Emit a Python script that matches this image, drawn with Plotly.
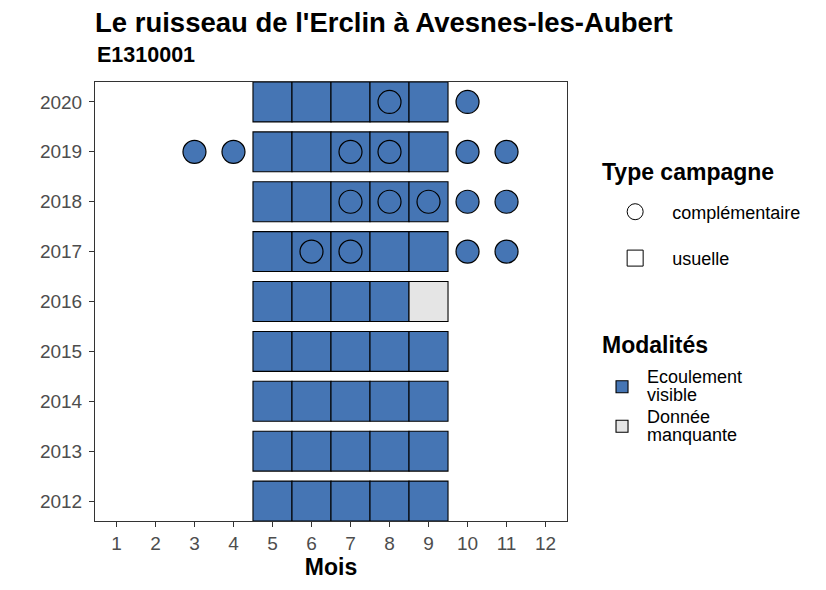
import plotly.graph_objects as go

# campagnes usuelles : mois 5 à 9, une modalité par case
annees = [2012, 2013, 2014, 2015, 2016, 2017, 2018, 2019, 2020]
mois_usuels = [5, 6, 7, 8, 9]
# seule case sans donnée : septembre 2016
manquant = {(2016, 9)}

# campagnes complémentaires (année -> mois)
compl = {
    2017: [6, 7, 10, 11],
    2018: [7, 8, 9, 10, 11],
    2019: [3, 4, 7, 8, 10, 11],
    2020: [8, 10],
}

couleurs = {'Ecoulement visible': '#4575B4', 'Donnée manquante': '#E5E5E5'}
etiquettes = {'Ecoulement visible': 'Ecoulement<br>visible',
              'Donnée manquante': 'Donnée<br>manquante'}

# table des cases
usu_annee, usu_mois, usu_modalite = [], [], []
for a in annees:
    for m in mois_usuels:
        usu_annee.append(a)
        usu_mois.append(m)
        usu_modalite.append('Donnée manquante' if (a, m) in manquant else 'Ecoulement visible')

cp_annee = [a for a in compl for m in compl[a]]
cp_mois = [m for a in compl for m in compl[a]]

FONT = 'Liberation Sans, Arial, sans-serif'
fig = go.Figure()


def serre(txt):
    # texte 18px avec interligne serré (comme ggplot)
    return '<br>'.join('<span style="font-size:18px">%s</span>' % l for l in txt.split('<br>'))


# tuiles
for mod, coul in couleurs.items():
    xs = [m for m, md in zip(usu_mois, usu_modalite) if md == mod]
    ys = [a for a, md in zip(usu_annee, usu_modalite) if md == mod]
    fig.add_trace(go.Bar(x=xs, y=[0.8] * len(xs), base=[a - 0.4 for a in ys],
                         width=1, marker=dict(color=coul, line=dict(color='black', width=1.1)),
                         name=serre(etiquettes[mod]), legend='legend2', legendgroup=mod))

# points complémentaires
fig.add_trace(go.Scatter(x=cp_mois, y=cp_annee, mode='markers', showlegend=False,
                         marker=dict(symbol='circle', size=23, color='#4575B4',
                                     line=dict(color='black', width=1.2))))

# légende "Type campagne"
fig.add_trace(go.Scatter(x=[None], y=[None], mode='markers', name='complémentaire',
                         legendgroup='c', legend='legend',
                         marker=dict(symbol='circle-open', size=16, color='black', line=dict(width=1))))
fig.add_trace(go.Scatter(x=[None], y=[None], mode='markers', name='usuelle',
                         legendgroup='u', legend='legend',
                         marker=dict(symbol='square-open', size=16, color='black', line=dict(width=1))))

# la page ajoute 8px de marge au corps : marges compensées
fig.update_layout(
    width=826, height=590,
    margin=dict(l=87, r=267, t=73.5, b=77),
    plot_bgcolor='white', paper_bgcolor='white',
    font=dict(family=FONT, size=18, color='black'),
    barmode='overlay',
    title=dict(text="<b>Le ruisseau de l'Erclin à Avesnes-les-Aubert</b>",
               font=dict(size=27.5, color='black'),
               xref='paper', x=0, xanchor='left', yref='container', y=0.976, yanchor='middle'),
    legend=dict(x=1.066, xanchor='left', y=0.746, yanchor='top',
                itemwidth=64, tracegroupgap=20, font=dict(size=18)),
    legend2=dict(x=1.0636, xanchor='left', y=0.362, yanchor='top',
                 itemwidth=40, tracegroupgap=0, font=dict(size=14)),
    annotations=[
        dict(text='<b>E1310001</b>', xref='paper', yref='paper',
             x=0, xanchor='left', y=1.0626, yanchor='middle',
             showarrow=False, font=dict(size=21.5, color='black')),
        dict(text='<b>Type campagne</b>', xref='paper', yref='paper',
             x=1.07, xanchor='left', y=0.796, yanchor='middle',
             showarrow=False, font=dict(size=23, color='black')),
        dict(text='<b>Modalités</b>', xref='paper', yref='paper',
             x=1.07, xanchor='left', y=0.4005, yanchor='middle',
             showarrow=False, font=dict(size=23, color='black')),
    ],
)

axe = dict(showline=True, mirror=True, linecolor='#333333', linewidth=1,
           showgrid=False, zeroline=False, ticks='outside', ticklen=5,
           tickcolor='#333333', tickfont=dict(size=19, color='#4D4D4D'))
fig.update_xaxes(**axe, range=[0.45, 12.55], tickvals=list(range(1, 13)),
                 title=dict(text='<b>Mois</b>', font=dict(size=23), standoff=6))
fig.update_yaxes(**axe, range=[2011.6, 2020.4], tickvals=annees, ticklabelstandoff=3)

fig.write_html('out.html')
